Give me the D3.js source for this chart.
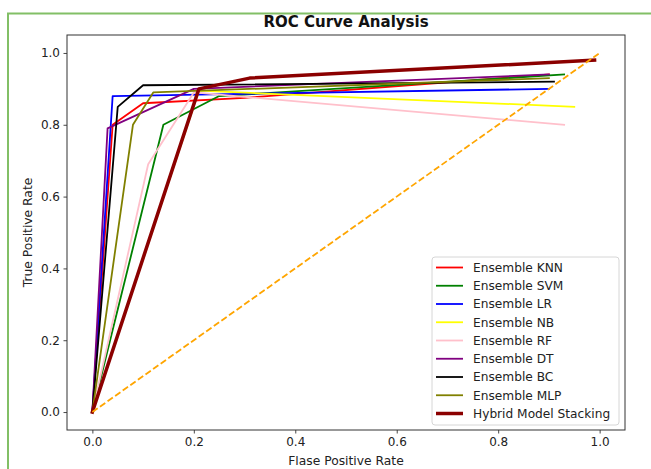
<!DOCTYPE html>
<html>
<head>
<meta charset="utf-8">
<script src="https://cdn.jsdelivr.net/npm/d3@7"></script>
<style>
  html, body { margin: 0; padding: 0; background: #fff; }
  svg { display: block; font-family: "DejaVu Sans", sans-serif; }
</style>
</head>
<body>
<svg id="chart" width="651" height="469"></svg>
<script>
// ---- data ----
const modelNames = ["Ensemble KNN", "Ensemble SVM", "Ensemble LR", "Ensemble NB", "Ensemble RF",
                    "Ensemble DT", "Ensemble BC", "Ensemble MLP", "Hybrid Model Stacking"];
const modelColors = ["red", "green", "blue", "yellow", "pink", "purple", "black", "olive", "darkred"];

const knnFpr = [0, 0.04, 0.10, 0.30, 0.90];
const knnTpr = [0, 0.80, 0.86, 0.875, 0.94];
const svmFpr = [0, 0.14, 0.25, 0.93];
const svmTpr = [0, 0.80, 0.88, 0.94];
const lrFpr  = [0, 0.04, 0.90];
const lrTpr  = [0, 0.88, 0.90];
const nbFpr  = [0, 0.21, 0.95];
const nbTpr  = [0, 0.895, 0.85];
const rfFpr  = [0, 0.11, 0.20, 0.93];
const rfTpr  = [0, 0.69, 0.89, 0.80];
const dtFpr  = [0, 0.03, 0.20, 0.90];
const dtTpr  = [0, 0.79, 0.90, 0.94];
const bcFpr  = [0, 0.05, 0.10, 0.91];
const bcTpr  = [0, 0.85, 0.91, 0.92];
const mlpFpr = [0, 0.08, 0.12, 0.90];
const mlpTpr = [0, 0.80, 0.89, 0.93];
const hybFpr = [0, 0.21, 0.31, 0.99];
const hybTpr = [0, 0.90, 0.93, 0.98];

const chanceFpr = [0, 1];
const chanceTpr = [0, 1];

const xTicks = [0, 0.2, 0.4, 0.6, 0.8, 1.0];
const yTicks = [0, 0.2, 0.4, 0.6, 0.8, 1.0];

const titleText = "ROC Curve Analysis";
const xLabel = "Flase Positive Rate";
const yLabel = "True Positive Rate";

// ---- build ----
const fprs = [knnFpr, svmFpr, lrFpr, nbFpr, rfFpr, dtFpr, bcFpr, mlpFpr, hybFpr];
const tprs = [knnTpr, svmTpr, lrTpr, nbTpr, rfTpr, dtTpr, bcTpr, mlpTpr, hybTpr];
const series = modelNames.map((name, i) => ({
  name, color: modelColors[i],
  width: i === modelNames.length - 1 ? 3.5 : 1.8,
  pts: fprs[i].map((f, j) => [f, tprs[i][j]])
}));

const svg = d3.select("#chart");

// green frame of the screenshot
svg.append("line").attr("x1", 8).attr("x2", 8).attr("y1", 13).attr("y2", 469)
  .attr("stroke", "#82bf66").attr("stroke-width", 2);
svg.append("line").attr("x1", 7).attr("x2", 651).attr("y1", 13.5).attr("y2", 13.5)
  .attr("stroke", "#82bf66").attr("stroke-width", 2);

const plot = { left: 67, right: 625, top: 35, bottom: 430 };
const x = d3.scaleLinear().domain([-0.05, 1.05]).range([plot.left, plot.right]);
const y = d3.scaleLinear().domain([-0.05, 1.05]).range([plot.bottom, plot.top]);

svg.append("defs").append("clipPath").attr("id", "clip")
  .append("rect").attr("x", plot.left).attr("y", plot.top)
  .attr("width", plot.right - plot.left).attr("height", plot.bottom - plot.top);

const line = d3.line().x(d => x(d[0])).y(d => y(d[1]));

const g = svg.append("g").attr("clip-path", "url(#clip)");
series.forEach(s => {
  g.append("path").datum(s.pts)
    .attr("d", line)
    .attr("fill", "none")
    .attr("stroke", s.color)
    .attr("stroke-width", s.width)
    .attr("stroke-linejoin", "round")
    .attr("stroke-linecap", "square");
});

// chance diagonal
g.append("path").datum(chanceFpr.map((f, i) => [f, chanceTpr[i]]))
  .attr("d", line)
  .attr("fill", "none")
  .attr("stroke", "orange")
  .attr("stroke-width", 1.8)
  .attr("stroke-dasharray", "6.5,2.8");

// axes
const xAxis = d3.axisBottom(x).tickValues(xTicks).tickFormat(d3.format(".1f")).tickSize(3.5).tickPadding(3.5);
const yAxis = d3.axisLeft(y).tickValues(yTicks).tickFormat(d3.format(".1f")).tickSize(3.5).tickPadding(3.5);

const gx = svg.append("g").attr("transform", `translate(0,${plot.bottom})`).call(xAxis);
const gy = svg.append("g").attr("transform", `translate(${plot.left},0)`).call(yAxis);
[gx, gy].forEach(a => {
  a.select(".domain").remove();
  a.selectAll(".tick line").attr("stroke", "#333").attr("stroke-width", 0.9);
  a.selectAll(".tick text").attr("fill", "#222").style("font-size", "12px")
    .style("font-family", "'DejaVu Sans', sans-serif");
});

// frame
svg.append("rect").attr("x", plot.left).attr("y", plot.top)
  .attr("width", plot.right - plot.left).attr("height", plot.bottom - plot.top)
  .attr("fill", "none").attr("stroke", "#333").attr("stroke-width", 1);

// title and labels
svg.append("text").attr("x", (plot.left + plot.right) / 2).attr("y", 27)
  .attr("text-anchor", "middle").style("font-size", "15px").style("font-weight", "bold")
  .attr("fill", "#111").text(titleText);
svg.append("text").attr("x", (plot.left + plot.right) / 2).attr("y", 465)
  .attr("text-anchor", "middle").style("font-size", "12.3px").attr("fill", "#222").text(xLabel);
svg.append("text").attr("transform", `translate(32,${(plot.top + plot.bottom) / 2}) rotate(-90)`)
  .attr("text-anchor", "middle").style("font-size", "12.3px").attr("fill", "#222").text(yLabel);

// legend
const lg = svg.append("g").attr("transform", "translate(432,257)");
lg.append("rect").attr("x", 0).attr("y", 0).attr("width", 187).attr("height", 168)
  .attr("rx", 3).attr("fill", "white").attr("fill-opacity", 0.85)
  .attr("stroke", "#d6d6d6").attr("stroke-width", 1);
series.forEach((s, i) => {
  const yy = 10.5 + i * 18.25;
  lg.append("line").attr("x1", 4).attr("x2", 31).attr("y1", yy).attr("y2", yy)
    .attr("stroke", s.color).attr("stroke-width", s.width);
  lg.append("text").attr("x", 41).attr("y", yy).attr("dy", "0.36em")
    .style("font-size", "12.2px").attr("fill", "#222").text(s.name);
});
</script>
</body>
</html>
